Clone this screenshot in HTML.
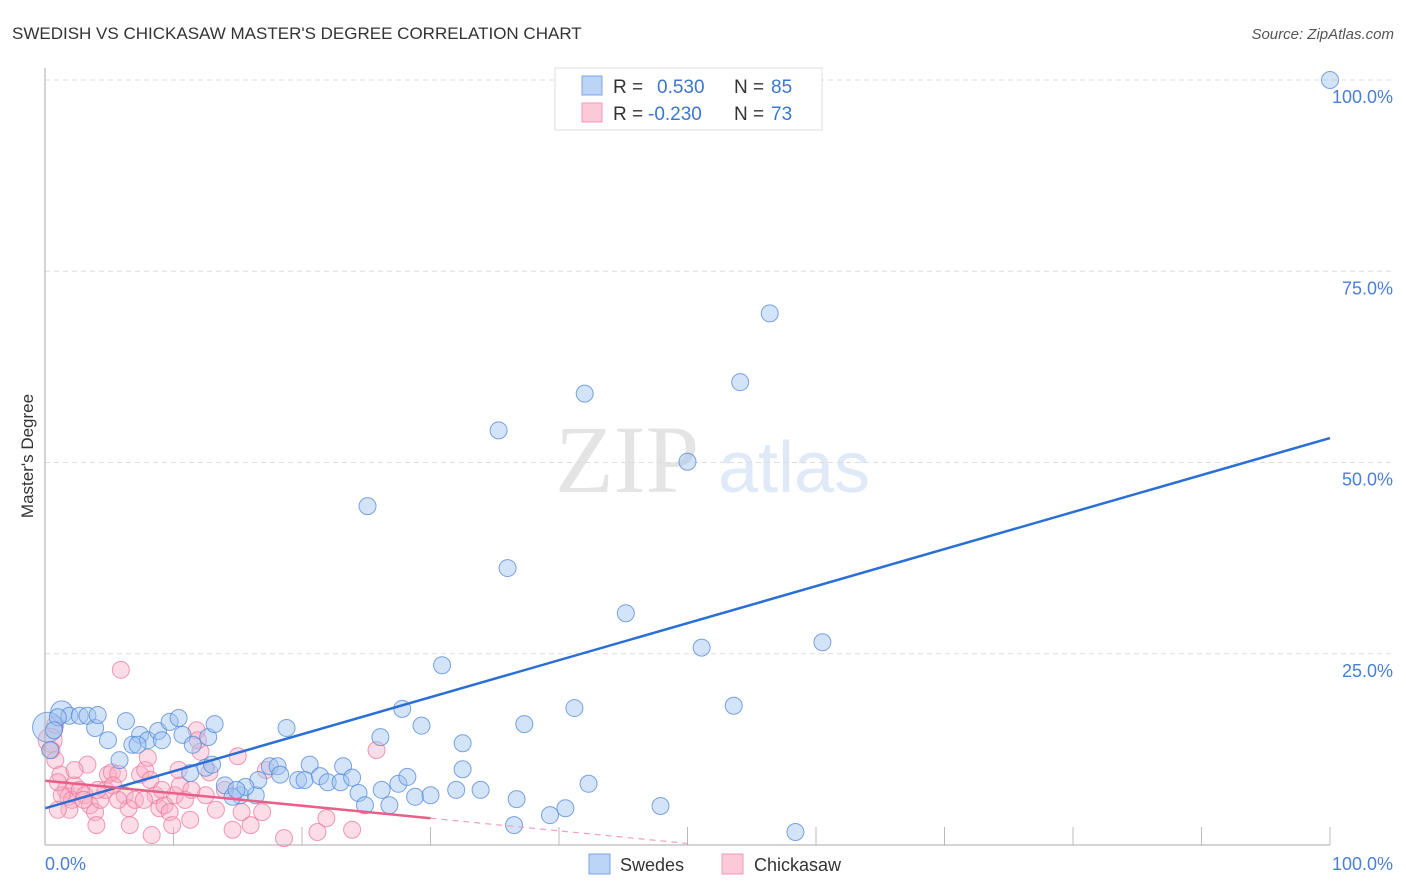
<!DOCTYPE html>
<html><head><meta charset="utf-8"><style>
body{margin:0;background:#fff;font-family:"Liberation Sans",sans-serif;}
#c{position:relative;width:1406px;height:892px;overflow:hidden}
</style></head><body>
<div id="c">
<svg id="s" width="1406" height="892" xmlns="http://www.w3.org/2000/svg">
<text x="12" y="39" font-size="17" fill="#333">SWEDISH VS CHICKASAW MASTER'S DEGREE CORRELATION CHART</text>
<text x="1394" y="39" font-size="15" fill="#555" font-style="italic" text-anchor="end">Source: ZipAtlas.com</text>
<text x="555" y="492" font-size="96" fill="#e4e4e4" font-family="Liberation Serif,serif">ZIP</text>
<text x="718" y="492" font-size="72" fill="#dfe9f7">atlas</text>
<text transform="translate(33,456) rotate(-90)" font-size="17" fill="#333" text-anchor="middle">Master's Degree</text>
<g id="grid"></g><g id="pts"></g><g id="lines"></g>
<line x1="45" y1="68" x2="45" y2="845" stroke="#aaa"/>
<line x1="45" y1="845" x2="1330" y2="845" stroke="#aaa"/>
<text x="45" y="870" font-size="18" fill="#4a7fd4">0.0%</text>
<text x="1393" y="870" font-size="18" fill="#4a7fd4" text-anchor="end">100.0%</text>
<g>
<rect x="555" y="68" width="267" height="62" fill="#fff" stroke="#ddd"/>
<rect x="582" y="76" width="20" height="19" fill="#bcd4f6" stroke="#7aa6e6"/>
<rect x="582" y="103" width="20" height="19" fill="#fcc9d8" stroke="#f09ab5"/>
<text x="613" y="93" font-size="19" fill="#333">R = </text><text x="657" y="93" font-size="19" fill="#3b76d0">0.530</text>
<text x="734" y="93" font-size="19" fill="#333">N = </text><text x="771" y="93" font-size="19" fill="#3b76d0">85</text>
<text x="613" y="120" font-size="19" fill="#333">R = </text><text x="648" y="120" font-size="19" fill="#3b76d0">-0.230</text>
<text x="734" y="120" font-size="19" fill="#333">N = </text><text x="771" y="120" font-size="19" fill="#3b76d0">73</text>
</g>
<g>
<rect x="589" y="854" width="21" height="20" fill="#bcd4f6" stroke="#7aa6e6"/>
<text x="620" y="871" font-size="18" fill="#333">Swedes</text>
<rect x="722" y="854" width="21" height="20" fill="#fcc9d8" stroke="#f09ab5"/>
<text x="754" y="871" font-size="18" fill="#333">Chickasaw</text>
</g>
</svg>
</div>
<script>
const yTicks=[25,50,75,100];
const yTickLabels=["25.0%","50.0%","75.0%","100.0%"];
const xTicks=[10,20,30,40,50,60,70,80,90,100];
const blueX=[100,56.4,54.1,42.0,35.3,50.0,25.1,36.0,45.2,60.5,51.1,30.9,53.6,41.2,27.8,37.3,29.3,18.8,32.5,26.1,1.3,1.9,2.7,3.3,0.2,3.9,4.9,6.3,7.4,8.0,8.8,9.7,10.4,10.7,11.5,12.7,13.2,6.8,5.8,11.3,12.5,14.0,15.2,16.4,16.6,17.5,18.1,18.3,19.7,20.6,20.2,21.4,22.0,23.0,23.2,23.9,24.4,24.9,26.2,27.5,28.2,28.8,30.0,32.0,32.5,33.9,36.7,26.8,39.3,40.5,42.3,47.9,36.5,58.4,14.6,15.6,14.9,13.0,7.2,9.1,1.0,0.4,0.7,4.1];
const blueY=[100,69.5,60.5,59.0,54.2,50.1,44.3,36.2,30.3,26.5,25.8,23.5,18.2,17.9,17.8,15.8,15.6,15.3,13.3,14.1,17.4,16.9,16.9,16.9,15.4,15.3,13.7,16.2,14.4,13.7,14.9,16.1,16.6,14.4,13.1,14.1,15.8,13.1,11.1,9.4,10.1,7.8,6.5,6.5,8.5,10.3,10.3,9.2,8.5,10.5,8.5,9.0,8.2,8.2,10.3,8.8,6.8,5.2,7.2,8.0,8.9,6.3,6.5,7.2,9.9,7.2,6.0,5.2,3.9,4.8,8.0,5.1,2.6,1.7,6.3,7.6,7.2,10.5,13.1,13.7,16.7,12.4,15.0,17.0];
const pinkX=[5.9,0.8,0.4,0.5,0.8,1.2,1.6,1.8,2.1,2.3,2.7,3.1,3.5,3.9,4.3,4.7,4.9,5.2,5.7,6.2,6.5,7.0,7.4,7.8,8.2,8.6,8.9,9.3,9.7,10.1,10.5,10.9,11.3,11.8,12.1,12.5,12.8,13.3,14.0,14.6,15.0,15.3,16.0,16.9,17.2,18.6,21.2,21.9,23.9,25.8,4.0,6.6,8.3,9.9,11.9,5.7,3.0,3.3,2.3,4.1,5.3,1.9,1.3,1.0,8.0,9.1,10.4,11.4,7.7,1.0];
const pinkY=[22.9,15.7,13.7,12.4,11.1,9.2,7.2,6.3,5.9,7.8,7.2,6.5,5.2,4.3,5.9,7.2,9.2,9.5,9.3,6.5,4.8,5.9,9.2,9.8,8.5,6.5,4.8,5.2,4.3,6.5,7.8,5.9,3.3,15.0,12.2,6.5,9.5,4.6,7.2,2.0,11.6,4.3,2.6,4.3,9.8,0.9,1.7,3.5,2.0,12.4,2.6,2.6,1.3,2.6,13.7,5.9,5.9,10.5,9.8,7.2,7.8,4.6,6.5,8.2,11.4,7.2,9.8,7.2,5.9,4.6];
const blueTrend=[[0,4.8],[100,53.2]];
const pinkTrend=[[0,8.4],[30,3.5]];
const pinkTrendDash=[[30,3.5],[50,0.2]];
const NS="http://www.w3.org/2000/svg";
const X=v=>45+v*12.85, Y=v=>845-v*7.65;
function mk(t,a,p){const e=document.createElementNS(NS,t);for(const k in a)e.setAttribute(k,a[k]);p.appendChild(e);return e;}
const g=document.getElementById('grid');
yTicks.forEach((t,i)=>{
 const l=mk('line',{x1:45,x2:1395,y1:Y(t),y2:Y(t),stroke:'#ddd','stroke-dasharray':'5,4'},g);
 
 
 const tx=mk('text',{x:1393,y:Y(t)+23,'font-size':18,fill:'#4a7fd4','text-anchor':'end'},g);
 tx.textContent=yTickLabels[i];
 
 
});
xTicks.forEach(t=>{
 const l=mk('line',{x1:X(t),x2:X(t),y1:827,y2:845,stroke:'#bbb'},g);
 
 
});
const pg=document.getElementById('pts');
pinkX.forEach((v,i)=>{
 const c=mk('circle',{cx:X(v),cy:Y(pinkY[i]),r:i==2?12:8.5,fill:'rgba(248,170,195,0.4)',stroke:'rgba(236,120,155,0.75)','stroke-width':1},pg);
 
 
});
blueX.forEach((v,i)=>{
 const c=mk('circle',{cx:X(v),cy:Y(blueY[i]),r:(i==24?15:(i==20?11:8.5)),fill:'rgba(160,195,240,0.45)',stroke:'rgba(80,135,215,0.75)','stroke-width':1},pg);
 
 
});
const lg=document.getElementById('lines');
function ln(p,col,dash,name,w){const l=mk('line',{x1:X(p[0][0]),y1:Y(p[0][1]),x2:X(p[1][0]),y2:Y(p[1][1]),stroke:col,'stroke-width':w},lg);if(dash)l.setAttribute('stroke-dasharray',dash);return l;}
const b=ln(blueTrend,'#2a6fd6',null,'',2.5);


const p1=ln(pinkTrend,'#e8608a',null,'',2.5);


const p2=ln(pinkTrendDash,'#f0a0b8','6,5','',1.2);


</script>
</body></html>
